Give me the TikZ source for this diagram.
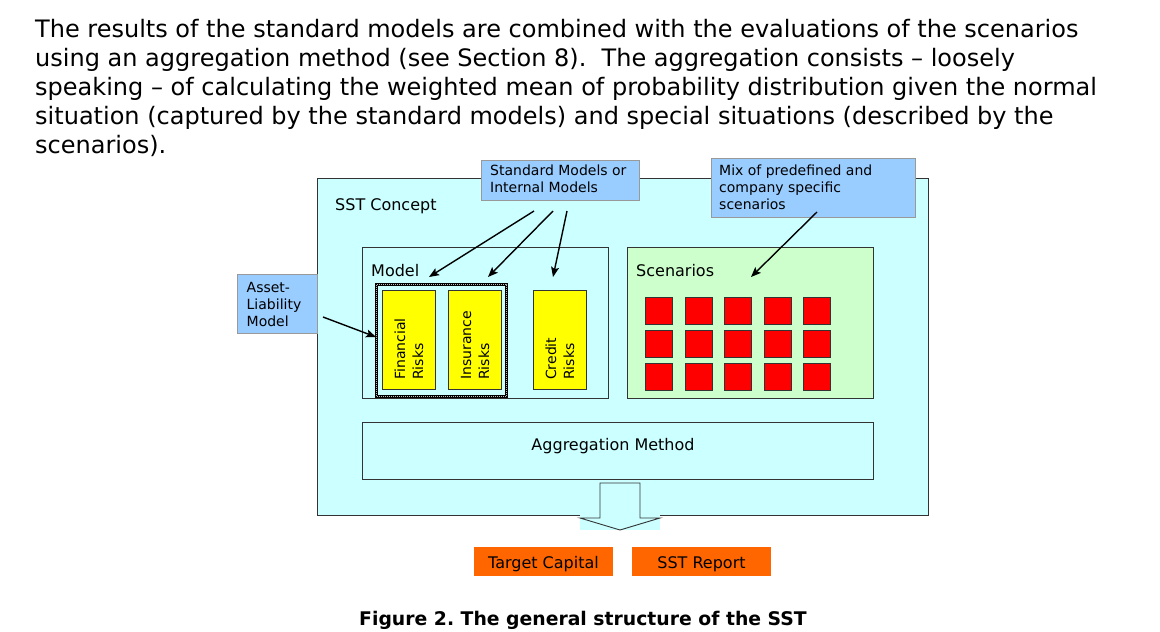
\documentclass[tikz,border=0pt]{standalone}
\usepackage{fontspec}
\setmainfont{DejaVu Sans}
\usetikzlibrary{arrows.meta}
\definecolor{skyc}{HTML}{CCFFFF}
\definecolor{callc}{HTML}{99CCFF}
\definecolor{greenc}{HTML}{CCFFCC}
\definecolor{orangec}{HTML}{FF6600}
\definecolor{redc}{HTML}{FF0000}
\definecolor{yellowc}{HTML}{FFFF00}
\definecolor{edgec}{HTML}{333333}
\newcommand\toplines[1]{\begin{tabular}[t]{@{}l@{}}#1\end{tabular}}
\frenchspacing
\begin{document}
\begin{tikzpicture}[x=1pt,y=-1pt,
  bodytxt/.style={anchor=base west, inner sep=0pt, font=\fontsize{24}{29}\selectfont},
  lbl/.style={anchor=base west, inner sep=0pt, font=\fontsize{16}{19}\selectfont},
  calltxt/.style={anchor=base west, inner sep=0pt, font=\fontsize{14}{17}\selectfont},
  boxc/.style={draw=edgec, line width=0.9pt, anchor=north west, inner sep=0pt},
  callbox/.style={fill=callc, draw=black!40, line width=0.8pt, anchor=north west, inner sep=0pt},
  riskbox/.style={fill=yellowc, draw=edgec, line width=0.9pt, anchor=north west, inner sep=0pt, minimum width=53pt, minimum height=99pt},
  risktxt/.style={rotate=90, anchor=west, inner sep=0pt, align=left, font=\fontsize{14}{18}\selectfont},
  sqbox/.style={fill=redc, draw=edgec, line width=0.8pt, anchor=north west, inner sep=0pt, minimum width=27pt, minimum height=27pt},
  outbox/.style={fill=orangec, anchor=north west, inner sep=0pt, minimum width=139pt, minimum height=29pt},
  callarrow/.style={-{Stealth[length=10pt,width=8pt,inset=2pt]}, line width=1.4pt}
]
\useasboundingbox (0,0) rectangle (1160,632);
\fill[white] (0,0) rectangle (1160,632);

% body text
\node[bodytxt] (t1) at (35,37) {The results of the standard models are combined with the evaluations of the scenarios};
\node[bodytxt] (t2) at (35,66) {using an aggregation method (see Section 8).~ The aggregation consists – loosely};
\node[bodytxt] (t3) at (35,95) {speaking – of calculating the weighted mean of probability distribution given the normal};
\node[bodytxt] (t4) at (35,124) {situation (captured by the standard models) and special situations (described by the};
\node[bodytxt] (t5) at (35,153) {scenarios).};

% outer SST concept box
\node[boxc, fill=skyc, minimum width=611pt, minimum height=337pt] (sst) at (317,178) {};
\node[lbl] (sstl) at (335,210) {SST Concept};

% model box
\node[boxc, fill=skyc, minimum width=246pt, minimum height=151pt] (model) at (362,247) {};
\node[lbl] (modell) at (371,276.5) {Model};

% grouped box around financial+insurance
\draw[black, line width=3pt] (376.5,284.5) rectangle (506.5,396);
\draw[black!25, line width=0.9pt, dash pattern=on 1pt off 1pt] (376.5,284.5) rectangle (506.5,396);
\node[draw=none, inner sep=0pt, minimum width=130pt, minimum height=111pt, anchor=north west] (grp) at (376.5,284.5) {};

% risk boxes
\node[riskbox] (fin) at (382,290) {};
\node[riskbox] (ins) at (448,290) {};
\node[riskbox] (cred) at (533,290) {};
\node[risktxt] (fint) at (409,380) {Financial\\Risks};
\node[risktxt] (inst) at (475,380) {Insurance\\Risks};
\node[risktxt] (credt) at (560,380) {Credit\\Risks};

% scenarios box
\node[boxc, fill=greenc, minimum width=246pt, minimum height=151pt] (scen) at (627,247) {};
\node[lbl] (scenl) at (636,276.5) {Scenarios};
\foreach \cx [count=\i] in {645,684.5,724,763.5,803}
  \foreach \cy [count=\j] in {297,330,362.5}
    \node[sqbox] (sq-\i-\j) at (\cx,\cy) {};

% aggregation
\node[boxc, fill=skyc, minimum width=511pt, minimum height=57pt] (agg) at (362,422) {};
\node[anchor=base, inner sep=0pt, font=\fontsize{16}{19}\selectfont] (aggl) at (613,450.5) {Aggregation Method};

% block arrow
\fill[skyc] (580,512.5) rectangle (660,530);
\draw[edgec, line width=0.9pt, fill=skyc] (580,518) -- (600,518) -- (600,483) -- (640,483) -- (640,518) -- (660,518) -- (620,530) -- cycle;
\coordinate (arrtip) at (620,530);

% outputs
\node[outbox] (tc) at (474,547) {};
\node[anchor=base, inner sep=0pt, font=\fontsize{16}{19}\selectfont] (tcl) at (543.5,568) {Target Capital};
\node[outbox] (rep) at (632,547) {};
\node[anchor=base, inner sep=0pt, font=\fontsize{16}{19}\selectfont] (repl) at (701.5,568) {SST Report};

% callouts
\node[callbox, minimum width=158pt, minimum height=40pt] (stdc) at (481,160) {};
\node[calltxt] (stdt) at (490,175.5) {\toplines{Standard Models or\\Internal Models}};
\node[callbox, minimum width=204pt, minimum height=59pt] (mixc) at (711,158) {};
\node[calltxt] (mixt) at (719,175) {\toplines{Mix of predefined and\\company specific\\scenarios}};
\node[callbox, minimum width=80pt, minimum height=59pt] (alc) at (237,274) {};
\node[calltxt] (alt) at (246.5,292.5) {\toplines{Asset-\\Liability\\Model}};

% connector anchors
\coordinate (s1) at (534,211);
\coordinate (s2) at (553,211);
\coordinate (s3) at (567,211);
\coordinate (m1) at (817,212);
\coordinate (a1) at (323,317);
\coordinate (e1) at (429,277);
\coordinate (e2) at (488,277);
\coordinate (e3) at (553,277);
\coordinate (e4) at (751,277);
\coordinate (e5) at (376,337);

\draw[callarrow] (s1) -- (e1);
\draw[callarrow] (s2) -- (e2);
\draw[callarrow] (s3) -- (e3);
\draw[callarrow] (m1) -- (e4);
\draw[callarrow] (a1) -- (e5);

% caption
\node[anchor=base, inner sep=0pt, font=\bfseries\fontsize{18.8}{22}\selectfont] (cap) at (583,625) {Figure 2. The general structure of the SST};
\end{tikzpicture}
\end{document}
